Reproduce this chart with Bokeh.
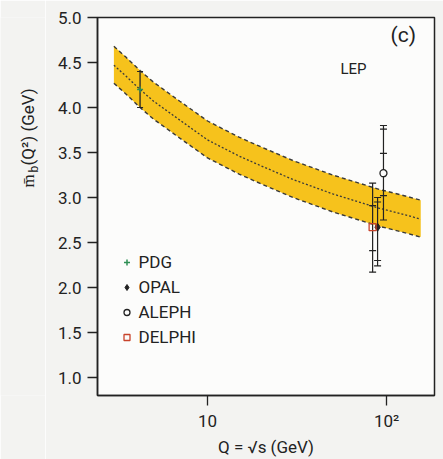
import math
from bokeh.plotting import figure
from bokeh.layouts import row
from bokeh.models import (ColumnDataSource, FixedTicker, NumeralTickFormatter, Label,
                          Legend, LegendItem, Range1d)
from bokeh.embed import file_html
from bokeh.resources import INLINE

# ---- data ----
Q_band = [3.0, 3.5, 4.2, 5.0, 7.0, 10, 15, 20, 30, 40, 50, 70, 91, 120, 155]
m_center = [4.47, 4.35, 4.20, 4.07, 3.86, 3.64, 3.46, 3.35, 3.20, 3.11, 3.04, 2.95, 2.88, 2.82, 2.76]
m_upper = [4.68, 4.56, 4.41, 4.28, 4.07, 3.85, 3.67, 3.56, 3.41, 3.32, 3.25, 3.16, 3.09, 3.03, 2.97]
m_lower = [4.27, 4.15, 4.00, 3.87, 3.66, 3.44, 3.26, 3.15, 3.00, 2.91, 2.84, 2.75, 2.68, 2.62, 2.56]

pdg_Q = [4.2]
pdg_m = [4.20]
pdg_lo = [4.00]
pdg_hi = [4.40]

lep_names = ["DELPHI", "OPAL", "ALEPH"]
lep_Q = [83.5, 89.0, 96.0]
lep_m = [2.67, 2.67, 3.27]
lep_lo = [2.17, 2.24, 2.75]
lep_hi = [3.16, 3.00, 3.80]
lep_caps = [[3.16, 2.91, 2.41, 2.17],
            [3.00, 2.95, 2.30, 2.24],
            [3.80, 3.76, 3.49, 3.02, 2.75]]

y_ticks = [1.0, 1.5, 2.0, 2.5, 3.0, 3.5, 4.0, 4.5, 5.0]
x_ticks = [10, 100]
x_tick_labels = ["10", "10²"]

FONT = "Roboto"
INK = "#222222"
BG = "#f3f3f1"

LW = 45  # width of the strip holding the rotated y-axis title

p = figure(width=443 - LW, height=459, x_axis_type="log",
           x_range=Range1d(2.43, 185), y_range=Range1d(0.8, 5.0),
           output_backend="svg", toolbar_location=None,
           min_border_left=97 - LW, min_border_right=9, min_border_top=17, min_border_bottom=64)
p.border_fill_color = BG
p.background_fill_color = "#fcfcfb"
p.xgrid.visible = False
p.ygrid.visible = False
p.outline_line_color = INK
p.outline_line_width = 1.5

# band
band = ColumnDataSource(dict(q=Q_band, c=m_center, u=m_upper, l=m_lower))
p.varea(x="q", y1="l", y2="u", source=band, fill_color="#f6c21c", fill_alpha=1.0)
p.line(x="q", y="u", source=band, line_color="#3a3a3a", line_width=1.4, line_dash="4 3")
p.line(x="q", y="l", source=band, line_color="#3a3a3a", line_width=1.4, line_dash="4 3")
p.line(x="q", y="c", source=band, line_color="#3a3a3a", line_width=1.3, line_dash="2 2")

# error bars
p.segment(x0=pdg_Q, y0=pdg_lo, x1=pdg_Q, y1=pdg_hi, line_color=INK, line_width=1.3)
p.scatter(x=pdg_Q * 2, y=pdg_lo + pdg_hi, marker="dash", size=6, line_color=INK, line_width=1.2)
p.segment(x0=lep_Q, y0=lep_lo, x1=lep_Q, y1=lep_hi, line_color=INK, line_width=1.2)
cap_x, cap_y = [], []
for q, caps in zip(lep_Q, lep_caps):
    for c in caps:
        cap_x.append(q)
        cap_y.append(c)
p.scatter(x=cap_x, y=cap_y, marker="dash", size=7, line_color=INK, line_width=1.2)

# markers
r_pdg = p.scatter(x=pdg_Q, y=pdg_m, marker="cross", size=6, line_color="#2f8f55", line_width=1.5)
r_opal = p.scatter(x=[lep_Q[1]], y=[lep_m[1]], marker="diamond", size=8,
                   fill_color=INK, line_color=INK)
r_aleph = p.scatter(x=[lep_Q[2]], y=[lep_m[2]], marker="circle", size=7,
                    fill_color="#fcfcfb", line_color=INK, line_width=1.3)
r_delphi = p.scatter(x=[lep_Q[0]], y=[lep_m[0]], marker="square", size=7,
                     fill_color=None, line_color="#c8432b", line_width=1.3)

legend = Legend(items=[LegendItem(label="PDG", renderers=[r_pdg]),
                       LegendItem(label="OPAL", renderers=[r_opal]),
                       LegendItem(label="ALEPH", renderers=[r_aleph]),
                       LegendItem(label="DELPHI", renderers=[r_delphi])],
                location=(21.5, 48), padding=0, margin=0, spacing=5,
                glyph_width=15, glyph_height=20, label_height=20, label_standoff=5,
                border_line_color=None, background_fill_alpha=0,
                label_text_font=FONT, label_text_font_size="17px", label_text_color=INK)
p.add_layout(legend, "center")

# axes
for ax in (p.xaxis[0], p.yaxis[0]):
    ax.axis_line_color = INK
    ax.axis_line_width = 1.5
    ax.major_tick_line_color = INK
    ax.major_tick_line_width = 1.3
    ax.major_tick_out = 10
    ax.major_tick_in = 0
    ax.minor_tick_out = 0
    ax.minor_tick_in = 0
    ax.major_label_text_font = FONT
    ax.major_label_text_font_size = "17px"
    ax.major_label_text_color = INK
    ax.axis_label_text_font = FONT
    ax.axis_label_text_font_size = "17px"
    ax.axis_label_text_font_style = "normal"
    ax.axis_label_text_color = INK

p.yaxis.ticker = FixedTicker(ticks=y_ticks)
p.yaxis.formatter = NumeralTickFormatter(format="0.0")
p.yaxis.major_label_standoff = 6

p.xaxis.ticker = FixedTicker(ticks=x_ticks, minor_ticks=[])
p.xaxis.major_label_overrides = {t: s for t, s in zip(x_ticks, x_tick_labels)}
p.xaxis.major_label_standoff = 5
p.xaxis.axis_label = "Q = √s (GeV)"
p.xaxis.axis_label_standoff = 3

# panel annotations
p.add_layout(Label(x=293, y=349, x_units="screen", y_units="screen", text="(c)",
                   text_font=FONT, text_font_size="21px", text_color=INK))
p.add_layout(Label(x=243, y=318, x_units="screen", y_units="screen", text="LEP",
                   text_font=FONT, text_font_size="15px", text_color=INK))

# strip on the left carrying the y-axis title (m̄_b(Q²) (GeV)) as real text
t = figure(width=LW, height=459, x_range=Range1d(0, LW), y_range=Range1d(0, 459),
           output_backend="svg", toolbar_location=None,
           x_axis_location=None, y_axis_location=None, min_border=0)
t.border_fill_color = BG
t.background_fill_color = BG
t.outline_line_color = None
t.xgrid.visible = False
t.ygrid.visible = False
ang = math.pi / 2
lab_kw = dict(x_units="screen", y_units="screen", angle=ang, text_color=INK,
              text_font=FONT, text_baseline="middle", text_align="left")
t.add_layout(Label(x=27, y=459 - 251, text="m\u0304", text_font_size="17px", **lab_kw))
t.add_layout(Label(x=33, y=459 - 236, text="b", text_font_size="12px", **lab_kw))
t.add_layout(Label(x=27, y=459 - 229, text="(Q²) (GeV)", text_font_size="17px", **lab_kw))

layout = row(t, p, spacing=0)
open("out.html", "w").write(file_html(layout, INLINE))
